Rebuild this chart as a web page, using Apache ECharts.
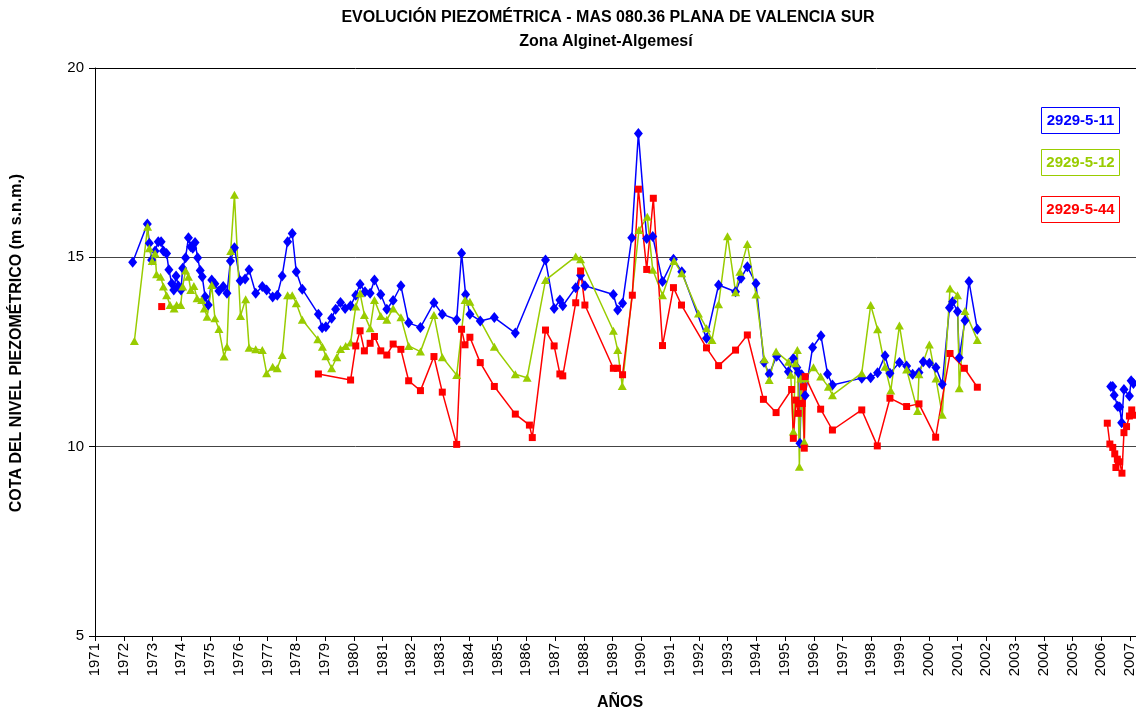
<!DOCTYPE html>
<html>
<head>
<meta charset="utf-8">
<script src="https://cdn.jsdelivr.net/npm/echarts@6/dist/echarts.min.js"></script>
<style>
  html, body { margin: 0; padding: 0; background: #fff; }
  #chart { width: 1136px; height: 715px; }
</style>
</head>
<body>
<div id="chart"></div>
<script>
// piezómetro 2929-5-11 (null = sin datos, corta la línea)
var anios11 = [1972.31, 1972.82, 1972.89, 1972.97, 1973.09, 1973.2, 1973.3, 1973.38, 1973.49, 1973.57,
  1973.67, 1973.74, 1973.82, 1973.9, 1973.99, 1974.05, 1974.15, 1974.25, 1974.33, 1974.4,
  1974.48, 1974.57, 1974.66, 1974.73, 1974.83, 1974.94, 1975.06, 1975.17, 1975.31, 1975.46,
  1975.59, 1975.71, 1975.85, 1976.05, 1976.22, 1976.36, 1976.59, 1976.82, 1976.97, 1977.18,
  1977.34, 1977.51, 1977.70, 1977.86, 1978.0, 1978.21, 1978.77, 1978.9, 1979.03, 1979.23,
  1979.37, 1979.54, 1979.70, 1979.89, 1980.07, 1980.22, 1980.39, 1980.57, 1980.72, 1980.94,
  1981.15, 1981.37, 1981.64, 1981.91, 1982.32, 1982.79, 1983.08, 1983.58, 1983.75, 1983.89,
  1984.04, 1984.40, 1984.89, 1985.62, 1986.67, 1986.97, 1987.17, 1987.27, 1987.72, 1987.89,
  1988.04, 1989.03, 1989.18, 1989.35, 1989.67, 1989.90, 1990.19, 1990.40, 1990.74, 1991.12,
  1991.41, 1992.27, 1992.69, 1993.28, 1993.47, 1993.69, 1993.99, 1994.27, 1994.45, 1994.71,
  1995.12, 1995.29, 1995.41, 1995.47, 1995.52, 1995.58, 1995.70, 1995.96, 1996.25, 1996.48,
  1996.65, 1997.67, 1997.98, 1998.22, 1998.48, 1998.65, 1998.98, 1999.23, 1999.44, 1999.66,
  1999.81, 2000.02, 2000.25, 2000.47, 2000.72, 2000.83, 2001.0, 2001.06, 2001.26, 2001.40,
  2001.69, 2004.0, 2006.33, 2006.40, 2006.45, 2006.57, 2006.64, 2006.71, 2006.79, 2006.98,
  2007.04, 2007.12];
var cota11 = [14.87, 15.88, 15.37, 14.93, 15.17, 15.41, 15.41, 15.17, 15.1, 14.67,
  14.31, 14.14, 14.51, 14.24, 14.14, 14.71, 14.99, 15.52, 15.28, 15.24,
  15.39, 14.99, 14.65, 14.49, 13.96, 13.74, 14.4, 14.3, 14.11, 14.23,
  14.05, 14.9, 15.25, 14.38, 14.43, 14.67, 14.05, 14.23, 14.14, 13.95,
  14.0, 14.51, 15.41, 15.63, 14.62, 14.16, 13.5, 13.14, 13.17, 13.39,
  13.63, 13.81, 13.65, 13.72, 14.0, 14.29, 14.09, 14.05, 14.4, 14.02,
  13.63, 13.86, 14.25, 13.27, 13.15, 13.8, 13.5, 13.35, 15.11, 14.02,
  13.5, 13.32, 13.41, 13.0, 14.93, 13.65, 13.87, 13.72, 14.2, 14.53,
  14.25, 14.02, 13.61, 13.79, 15.52, 18.27, 15.5, 15.55, 14.36, 14.95,
  14.62, 12.86, 14.27, 14.09, 14.45, 14.75, 14.31, 12.23, 11.92, 12.39,
  11.98, 12.33, 12.09, 11.95, 10.09, 11.9, 11.35, 12.62, 12.93, 11.92,
  11.63, 11.81, 11.82, 11.95, 12.4, 11.94, 12.22, 12.13, 11.91, 11.96,
  12.24, 12.2, 12.09, 11.65, 13.67, 13.83, 13.57, 12.35, 13.33, 14.36,
  13.1, null, 11.59, 11.59, 11.36, 11.07, 11.05, 10.63, 11.51, 11.34,
  11.74, 11.67];

// piezómetro 2929-5-12
var anios12 = [1972.37, 1972.83, 1972.89, 1972.99, 1973.09, 1973.14, 1973.28, 1973.38, 1973.49, 1973.61,
  1973.75, 1973.84, 1973.98, 1974.05, 1974.15, 1974.25, 1974.33, 1974.44, 1974.55, 1974.71,
  1974.8, 1974.9, 1975.06, 1975.17, 1975.31, 1975.49, 1975.59, 1975.72, 1975.85, 1976.06,
  1976.24, 1976.36, 1976.59, 1976.82, 1976.97, 1977.18, 1977.34, 1977.51, 1977.70, 1977.86,
  1978.0, 1978.21, 1978.75, 1978.91, 1979.03, 1979.23, 1979.41, 1979.54, 1979.72, 1979.89,
  1980.07, 1980.22, 1980.37, 1980.57, 1980.72, 1980.94, 1981.15, 1981.37, 1981.64, 1981.91,
  1982.32, 1982.79, 1983.08, 1983.58, 1983.87, 1984.04, 1984.89, 1985.62, 1986.03, 1986.67,
  1987.72, 1987.89, 1989.03, 1989.18, 1989.34, 1989.92, 1990.21, 1990.40, 1990.74, 1991.14,
  1991.41, 1991.99, 1992.27, 1992.46, 1992.69, 1993.0, 1993.28, 1993.43, 1993.69, 1993.99,
  1994.28, 1994.45, 1994.69, 1995.12, 1995.2, 1995.29, 1995.36, 1995.43, 1995.50, 1995.55,
  1995.67, 1995.70, 1995.99, 1996.24, 1996.51, 1996.65, 1997.67, 1997.98, 1998.22, 1998.48,
  1998.68, 1998.98, 1999.23, 1999.61, 1999.66, 2000.02, 2000.25, 2000.47, 2000.74, 2001.0,
  2001.06, 2001.26, 2001.69];
var cota12 = [12.79, 15.81, 15.24, 14.9, 15.1, 14.55, 14.49, 14.23, 14.0, 13.74,
  13.65, 13.74, 13.74, 14.23, 14.65, 14.49, 14.14, 14.24, 13.92, 13.87,
  13.65, 13.43, 14.27, 13.39, 13.11, 12.38, 12.64, 15.17, 16.65, 13.45,
  13.89, 12.61, 12.57, 12.55, 11.94, 12.11, 12.07, 12.42, 14.0, 14.0,
  13.79, 13.35, 12.84, 12.64, 12.39, 12.07, 12.36, 12.58, 12.66, 12.75,
  13.7, 14.05, 13.48, 13.13, 13.87, 13.45, 13.35, 13.65, 13.42, 12.66,
  12.51, 13.48, 12.36, 11.89, 13.87, 13.83, 12.64, 11.91, 11.82, 14.4,
  15.02, 14.95, 13.06, 12.55, 11.6, 15.72, 16.07, 14.67, 14.0, 14.9,
  14.58, 13.52, 13.13, 12.82, 13.76, 15.56, 14.08, 14.62, 15.35, 14.02,
  12.31, 11.76, 12.51, 12.24, 11.9, 10.4, 12.2, 12.55, 9.47, 11.8,
  10.13, 11.81, 12.1, 11.85, 11.58, 11.36, 11.94, 13.74, 13.1, 12.11,
  11.48, 13.2, 12.04, 10.94, 11.91, 12.7, 11.8, 10.84, 14.18, 14.0,
  11.54, 13.58, 12.82];

// piezómetro 2929-5-44
var anios44 = [1973.32, 1976.0, 1978.77, 1979.89, 1980.07, 1980.22, 1980.37, 1980.57, 1980.72, 1980.94,
  1981.15, 1981.37, 1981.64, 1981.91, 1982.32, 1982.79, 1983.08, 1983.58, 1983.75, 1983.87,
  1984.04, 1984.40, 1984.89, 1985.62, 1986.11, 1986.21, 1986.67, 1986.97, 1987.17, 1987.27,
  1987.72, 1987.89, 1988.04, 1989.03, 1989.17, 1989.35, 1989.69, 1989.90, 1990.19, 1990.42,
  1990.74, 1991.12, 1991.4, 1992.27, 1992.69, 1993.28, 1993.69, 1994.25, 1994.69, 1995.23,
  1995.29, 1995.38, 1995.46, 1995.50, 1995.60, 1995.64, 1995.67, 1995.70, 1996.24, 1996.65,
  1997.67, 1998.21, 1998.65, 1999.23, 1999.66, 2000.24, 2000.74, 2001.24, 2001.69, 2004.0,
  2006.21, 2006.30, 2006.40, 2006.47, 2006.51, 2006.56, 2006.64, 2006.72, 2006.79, 2006.88,
  2006.98, 2007.06, 2007.12];
var cota44 = [13.7, null, 11.92, 11.76, 12.66, 13.06, 12.53, 12.73, 12.91, 12.53,
  12.42, 12.71, 12.57, 11.74, 11.48, 12.38, 11.44, 10.06, 13.1, 12.69,
  12.89, 12.22, 11.59, 10.86, 10.57, 10.24, 13.08, 12.66, 11.92, 11.87,
  13.8, 14.64, 13.74, 12.07, 12.07, 11.9, 14.0, 16.8, 14.68, 16.56,
  12.67, 14.2, 13.74, 12.61, 12.14, 12.55, 12.95, 11.25, 10.9, 11.51,
  10.22, 11.23, 10.88, 11.14, 11.14, 11.58, 9.96, 11.85, 10.99, 10.44,
  10.97, 10.02, 11.28, 11.06, 11.13, 10.25, 12.46, 12.07, 11.57, null,
  10.62, 10.07, 9.98, 9.81, 9.45, 9.67, 9.6, 9.30, 10.37, 10.53,
  10.81, 10.97, 10.83];

var nombres = ['2929-5-11', '2929-5-12', '2929-5-44'];
var colores = ['#0000FF', '#99CC00', '#FF0000'];

function pares(anios, cotas) {
    return anios.map(function (a, i) {
        return [a, cotas[i] === null ? '-' : cotas[i]];
    });
}

var FUENTE = '"Liberation Sans", Arial, sans-serif';
var myChart = echarts.init(document.getElementById('chart'));

// cajas de leyenda a la derecha
var cajas = [];
var cajaY = [107, 149, 196];
nombres.forEach(function (n, i) {
    cajas.push({
        type: 'rect',
        shape: { x: 1041.5, y: cajaY[i] + 0.5, width: 78, height: 26 },
        style: { fill: '#fff', stroke: colores[i], lineWidth: 1 },
        z: 10
    });
    cajas.push({
        type: 'text',
        x: 1080.5, y: cajaY[i] + 14,
        style: {
            text: n, fill: colores[i], font: 'bold 15px ' + FUENTE,
            align: 'center', verticalAlign: 'middle'
        },
        z: 11
    });
});

var option = {
    animation: false,
    backgroundColor: '#fff',
    // el gráfico original está recortado a la derecha: 2008 queda fuera del lienzo
    grid: { left: 95, top: 68, bottom: 79, right: -22.75, outerBoundsMode: 'none', containLabel: false },
    xAxis: {
        type: 'value',
        min: 1971,
        max: 2008,
        interval: 1,
        axisLine: { lineStyle: { color: '#000', width: 1 } },
        axisTick: { length: 5, lineStyle: { color: '#000' } },
        axisLabel: {
            rotate: 90, margin: 7, color: '#000', fontSize: 15, fontFamily: FUENTE,
            formatter: function (v) { return String(v); }
        },
        splitLine: { show: false }
    },
    yAxis: {
        type: 'value',
        min: 5,
        max: 20,
        interval: 5,
        axisLine: { show: true, lineStyle: { color: '#000', width: 1 } },
        axisTick: { show: true, length: 6, lineStyle: { color: '#000' } },
        axisLabel: { margin: 11, color: '#000', fontSize: 15, fontFamily: FUENTE },
        splitLine: { show: true, lineStyle: { color: ['#000', '#444', '#444', '#000'], width: 1 } }
    },
    graphic: [
        {
            type: 'text', x: 608, y: 18,
            style: {
                text: 'EVOLUCIÓN PIEZOMÉTRICA - MAS 080.36 PLANA DE VALENCIA SUR',
                font: 'bold 16px ' + FUENTE, fill: '#000', align: 'center', verticalAlign: 'middle'
            }
        },
        {
            type: 'text', x: 606, y: 42,
            style: {
                text: 'Zona Alginet-Algemesí',
                font: 'bold 16px ' + FUENTE, fill: '#000', align: 'center', verticalAlign: 'middle'
            }
        },
        {
            type: 'text', x: 620, y: 703,
            style: {
                text: 'AÑOS', font: 'bold 16px ' + FUENTE, fill: '#000',
                align: 'center', verticalAlign: 'middle'
            }
        },
        {
            type: 'text', x: 17, y: 343, rotation: Math.PI / 2,
            style: {
                text: 'COTA DEL NIVEL PIEZOMÉTRICO (m s.n.m.)', font: 'bold 16px ' + FUENTE,
                fill: '#000', align: 'center', verticalAlign: 'middle'
            }
        }
    ].concat(cajas),
    series: [
        {
            name: nombres[0], type: 'line', data: pares(anios11, cota11),
            symbol: 'diamond', symbolSize: [9, 11], showAllSymbol: true,
            itemStyle: { color: colores[0] }, lineStyle: { color: colores[0], width: 1.5 }
        },
        {
            name: nombres[1], type: 'line', data: pares(anios12, cota12),
            symbol: 'triangle', symbolSize: [9, 8], showAllSymbol: true,
            itemStyle: { color: colores[1] }, lineStyle: { color: colores[1], width: 1.5 }
        },
        {
            name: nombres[2], type: 'line', data: pares(anios44, cota44),
            symbol: 'rect', symbolSize: 7, showAllSymbol: true,
            itemStyle: { color: colores[2] }, lineStyle: { color: colores[2], width: 1.5 }
        }
    ]
};
myChart.setOption(option);
window.addEventListener('resize', function () {
    myChart.resize();
});
</script>
</body>
</html>
